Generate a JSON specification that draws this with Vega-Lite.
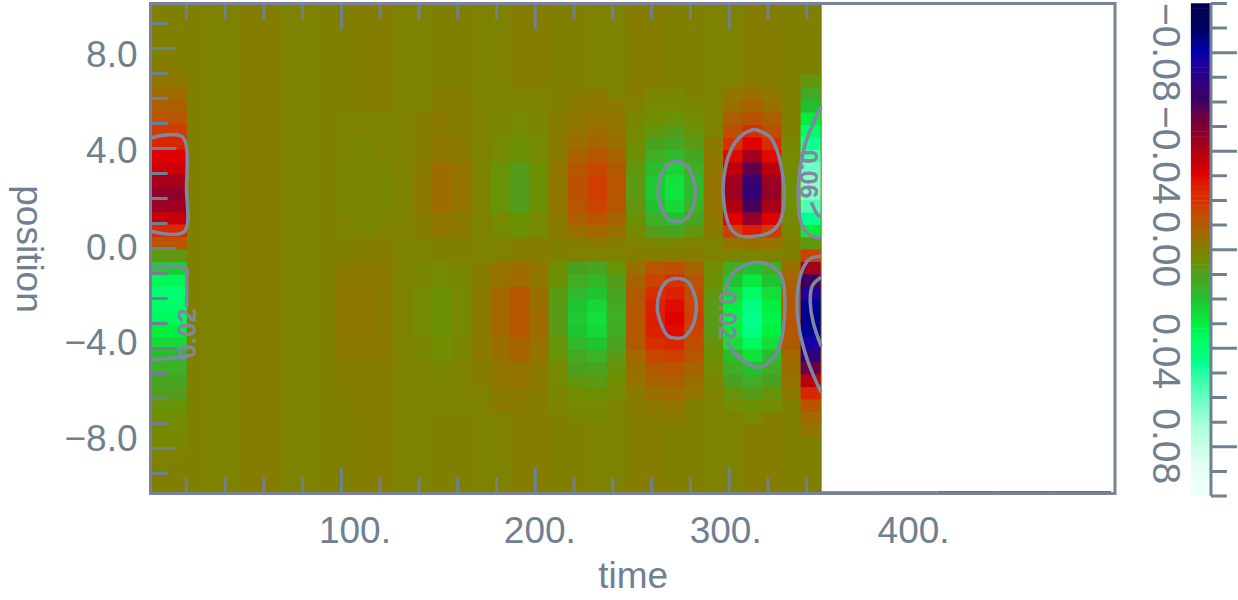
{"background":"white","padding":{"left":9.5,"top":1.5,"right":0,"bottom":0},"config":{"view":{"stroke":null},"axis":{"grid":false,"zindex":1,"labelFont":"Liberation Sans","titleFont":"Liberation Sans","labelFontSize":37,"titleFontSize":37,"labelColor":"#708090","titleColor":"#708090","titleFontWeight":"normal","tickColor":"#708090","domainColor":"#708090","tickWidth":3,"domainWidth":3,"labelOverlap":false,"labelBound":false,"labelFlush":false}},"width":964.5,"height":490,"layer":[{"mark":{"type":"rect","width":40,"height":490},"data":{"values":[{"t":17.4,"y":0,"v":0},{"t":37.4,"y":0,"v":0.001},{"t":57.4,"y":0,"v":-0.001},{"t":77.4,"y":0,"v":0.001},{"t":97.4,"y":0,"v":0},{"t":117.4,"y":0,"v":-0.001},{"t":137.4,"y":0,"v":0.001},{"t":157.4,"y":0,"v":0},{"t":177.4,"y":0,"v":0.001},{"t":197.4,"y":0,"v":-0.001},{"t":217.4,"y":0,"v":0},{"t":237.4,"y":0,"v":0.001},{"t":257.4,"y":0,"v":-0.001},{"t":277.4,"y":0,"v":0},{"t":297.4,"y":0,"v":0.001},{"t":317.4,"y":0,"v":-0.001},{"t":337.4,"y":0,"v":0}]},"encoding":{"x":{"field":"t","type":"quantitative","title":"time","scale":{"domain":[1.5,499],"nice":false,"zero":false},"axis":{"orient":"bottom","values":[20,40,60,80,100,120,140,160,180,200,220,240,260,280,300,320,340,400],"domain":false,"tickSize":{"condition":[{"test":"datum.value>347","value":0},{"test":"datum.value%100==0","value":-26}],"value":-16},"labelExpr":"datum.value%100==0?format(datum.value,'d')+'.':''","labelOffset":{"condition":[{"test":"datum.value==100","value":13},{"test":"datum.value==200","value":4},{"test":"datum.value==300","value":-4},{"test":"datum.value==400","value":-10}],"value":0},"labelPadding":{"condition":{"test":"datum.value>347","value":20},"value":46},"titlePadding":-1}},"y":{"field":"y","type":"quantitative","title":"position","scale":{"domain":[-9.8,9.8],"nice":false,"zero":false},"axis":{"values":[-9,-8,-7,-6,-5,-4,-3,-2,-1,0,1,2,3,4,5,6,7,8,9],"domain":false,"tickSize":{"condition":{"test":"datum.value%4==0","value":-26},"value":-17},"labelExpr":"datum.value%4==0?format(datum.value,'.1f'):''","labelOffset":{"condition":[{"test":"datum.value==8","value":7},{"test":"datum.value==4","value":4},{"test":"datum.value==-4","value":-4},{"test":"datum.value==-8","value":-8}],"value":0},"labelPadding":39,"titleAngle":90,"titlePadding":120}},"color":{"field":"v","type":"quantitative","legend":null,"scale":{"domain":[-0.1,-0.09,-0.08,-0.07,-0.06,-0.05,-0.04,-0.03,-0.02,-0.01,0,0.01,0.02,0.03,0.04,0.05,0.06,0.07,0.08,0.09,0.1],"range":["#000000","#000060","#0000b0","#280088","#3c0060","#780030","#b00010","#e00000","#d83000","#b05a00","#808000","#4aa020","#20c030","#00f040","#00ff70","#20ffa0","#60ffc0","#a0ffd8","#c8ffe8","#e8fff4","#ffffff"]}}}},{"mark":{"type":"rect","width":36.5,"height":13},"encoding":{"x":{"field":"t","type":"quantitative"},"y":{"field":"y","type":"quantitative"},"color":{"field":"v","type":"quantitative","legend":null}},"data":{"values":[{"t":10.8,"y":9.55,"v":0},{"t":10.8,"y":9.2,"v":0},{"t":10.8,"y":8.7,"v":0},{"t":10.8,"y":8.2,"v":0},{"t":10.8,"y":7.7,"v":0},{"t":10.8,"y":7.2,"v":-0.001},{"t":10.8,"y":6.7,"v":-0.003},{"t":10.8,"y":6.2,"v":-0.006},{"t":10.8,"y":5.7,"v":-0.009},{"t":10.8,"y":5.2,"v":-0.012},{"t":10.8,"y":4.7,"v":-0.018},{"t":10.8,"y":4.2,"v":-0.024},{"t":10.8,"y":3.7,"v":-0.03},{"t":10.8,"y":3.2,"v":-0.034},{"t":10.8,"y":2.7,"v":-0.042},{"t":10.8,"y":2.2,"v":-0.046},{"t":10.8,"y":1.7,"v":-0.044},{"t":10.8,"y":1.2,"v":-0.036},{"t":10.8,"y":0.7,"v":-0.022},{"t":10.8,"y":0.2,"v":-0.012},{"t":10.8,"y":-0.3,"v":0.007},{"t":10.8,"y":-0.8,"v":0.022},{"t":10.8,"y":-1.3,"v":0.035},{"t":10.8,"y":-1.8,"v":0.04},{"t":10.8,"y":-2.3,"v":0.038},{"t":10.8,"y":-2.8,"v":0.036},{"t":10.8,"y":-3.3,"v":0.03},{"t":10.8,"y":-3.8,"v":0.025},{"t":10.8,"y":-4.3,"v":0.019},{"t":10.8,"y":-4.8,"v":0.015},{"t":10.8,"y":-5.3,"v":0.012},{"t":10.8,"y":-5.8,"v":0.009},{"t":10.8,"y":-6.3,"v":0.006},{"t":10.8,"y":-6.8,"v":0.004},{"t":10.8,"y":-7.3,"v":0.003},{"t":10.8,"y":-7.8,"v":0.002},{"t":10.8,"y":-8.3,"v":0.001},{"t":10.8,"y":-8.8,"v":0},{"t":10.8,"y":-9.3,"v":0},{"t":10.8,"y":-9.55,"v":0}]}},{"mark":{"type":"rect","width":20,"height":25.6},"encoding":{"x":{"field":"t","type":"quantitative"},"y":{"field":"y","type":"quantitative"},"color":{"field":"v","type":"quantitative","legend":null}},"data":{"values":[{"t":102,"y":0.95,"v":0.001},{"t":102,"y":1.95,"v":0.002},{"t":102,"y":2.95,"v":0.002},{"t":102,"y":3.95,"v":0.001},{"t":102,"y":4.95,"v":0.001},{"t":102,"y":-1.05,"v":-0.002},{"t":102,"y":-2.05,"v":-0.003},{"t":102,"y":-3.05,"v":-0.003},{"t":102,"y":-4.05,"v":-0.002},{"t":102,"y":-5.05,"v":-0.001},{"t":112,"y":0.95,"v":0.002},{"t":112,"y":1.95,"v":0.002},{"t":112,"y":2.95,"v":0.002},{"t":112,"y":3.95,"v":0.002},{"t":112,"y":4.95,"v":0.001},{"t":112,"y":-1.05,"v":-0.002},{"t":112,"y":-2.05,"v":-0.003},{"t":112,"y":-3.05,"v":-0.003},{"t":112,"y":-4.05,"v":-0.002},{"t":112,"y":-5.05,"v":-0.001},{"t":112,"y":-6.05,"v":-0.001},{"t":122,"y":0.95,"v":0.001},{"t":122,"y":1.95,"v":0.002},{"t":122,"y":2.95,"v":0.002},{"t":122,"y":3.95,"v":0.001},{"t":122,"y":4.95,"v":0.001},{"t":122,"y":-1.05,"v":-0.002},{"t":122,"y":-2.05,"v":-0.002},{"t":122,"y":-3.05,"v":-0.002},{"t":122,"y":-4.05,"v":-0.002},{"t":122,"y":-5.05,"v":-0.001},{"t":132,"y":0.95,"v":0.001},{"t":132,"y":1.95,"v":0.001},{"t":132,"y":2.95,"v":0.001},{"t":132,"y":3.95,"v":0.001},{"t":132,"y":-1.05,"v":0.001},{"t":132,"y":-2.05,"v":0.001},{"t":132,"y":-3.05,"v":0.001},{"t":132,"y":-4.05,"v":0.001},{"t":142,"y":0.95,"v":-0.001},{"t":142,"y":1.95,"v":-0.002},{"t":142,"y":2.95,"v":-0.002},{"t":142,"y":3.95,"v":-0.001},{"t":142,"y":4.95,"v":-0.001},{"t":142,"y":-1.05,"v":0.002},{"t":142,"y":-2.05,"v":0.003},{"t":142,"y":-3.05,"v":0.003},{"t":142,"y":-4.05,"v":0.002},{"t":142,"y":-5.05,"v":0.001},{"t":142,"y":-6.05,"v":0.001},{"t":152,"y":0.95,"v":-0.003},{"t":152,"y":1.95,"v":-0.006},{"t":152,"y":2.95,"v":-0.006},{"t":152,"y":3.95,"v":-0.003},{"t":152,"y":4.95,"v":-0.002},{"t":152,"y":5.95,"v":-0.001},{"t":152,"y":-1.05,"v":0.003},{"t":152,"y":-2.05,"v":0.005},{"t":152,"y":-3.05,"v":0.005},{"t":152,"y":-4.05,"v":0.004},{"t":152,"y":-5.05,"v":0.002},{"t":152,"y":-6.05,"v":0.001},{"t":162,"y":0.95,"v":-0.002},{"t":162,"y":1.95,"v":-0.004},{"t":162,"y":2.95,"v":-0.004},{"t":162,"y":3.95,"v":-0.002},{"t":162,"y":4.95,"v":-0.001},{"t":162,"y":5.95,"v":-0.001},{"t":162,"y":-1.05,"v":0.002},{"t":162,"y":-2.05,"v":0.003},{"t":162,"y":-3.05,"v":0.003},{"t":162,"y":-4.05,"v":0.002},{"t":162,"y":-5.05,"v":0.001},{"t":162,"y":-6.05,"v":0.001},{"t":172,"y":0.95,"v":0.001},{"t":172,"y":1.95,"v":0.001},{"t":172,"y":2.95,"v":0.001},{"t":172,"y":3.95,"v":0.001},{"t":172,"y":-1.05,"v":-0.001},{"t":172,"y":-2.05,"v":-0.002},{"t":172,"y":-3.05,"v":-0.002},{"t":172,"y":-4.05,"v":-0.002},{"t":172,"y":-5.05,"v":-0.001},{"t":182,"y":0.95,"v":0.003},{"t":182,"y":1.95,"v":0.006},{"t":182,"y":2.95,"v":0.006},{"t":182,"y":3.95,"v":0.003},{"t":182,"y":4.95,"v":0.002},{"t":182,"y":5.95,"v":0.001},{"t":182,"y":-1.05,"v":-0.004},{"t":182,"y":-2.05,"v":-0.007},{"t":182,"y":-3.05,"v":-0.007},{"t":182,"y":-4.05,"v":-0.005},{"t":182,"y":-5.05,"v":-0.003},{"t":182,"y":-6.05,"v":-0.002},{"t":192,"y":0.95,"v":0.005},{"t":192,"y":1.95,"v":0.009},{"t":192,"y":2.95,"v":0.009},{"t":192,"y":3.95,"v":0.005},{"t":192,"y":4.95,"v":0.003},{"t":192,"y":5.95,"v":0.001},{"t":192,"y":-1.05,"v":-0.006},{"t":192,"y":-2.05,"v":-0.011},{"t":192,"y":-3.05,"v":-0.011},{"t":192,"y":-4.05,"v":-0.008},{"t":192,"y":-5.05,"v":-0.004},{"t":192,"y":-6.05,"v":-0.002},{"t":202,"y":0.95,"v":0.003},{"t":202,"y":1.95,"v":0.005},{"t":202,"y":2.95,"v":0.005},{"t":202,"y":3.95,"v":0.003},{"t":202,"y":4.95,"v":0.002},{"t":202,"y":5.95,"v":0.001},{"t":202,"y":-1.05,"v":-0.003},{"t":202,"y":-2.05,"v":-0.005},{"t":202,"y":-3.05,"v":-0.006},{"t":202,"y":-4.05,"v":-0.004},{"t":202,"y":-5.05,"v":-0.002},{"t":202,"y":-6.05,"v":-0.001},{"t":212,"y":0.95,"v":-0.002},{"t":212,"y":1.95,"v":-0.003},{"t":212,"y":2.95,"v":-0.003},{"t":212,"y":3.95,"v":-0.002},{"t":212,"y":4.95,"v":-0.001},{"t":212,"y":-1.05,"v":0.005},{"t":212,"y":-2.05,"v":0.008},{"t":212,"y":-3.05,"v":0.008},{"t":212,"y":-4.05,"v":0.006},{"t":212,"y":-5.05,"v":0.003},{"t":212,"y":-6.05,"v":0.002}]}},{"mark":{"type":"rect","width":20,"height":13},"encoding":{"x":{"field":"t","type":"quantitative"},"y":{"field":"y","type":"quantitative"},"color":{"field":"v","type":"quantitative","legend":null}},"data":{"values":[{"t":222,"y":0.2,"v":-0.001},{"t":222,"y":0.7,"v":-0.005},{"t":222,"y":1.2,"v":-0.009},{"t":222,"y":1.7,"v":-0.012},{"t":222,"y":2.2,"v":-0.013},{"t":222,"y":2.7,"v":-0.013},{"t":222,"y":3.2,"v":-0.011},{"t":222,"y":3.7,"v":-0.008},{"t":222,"y":4.2,"v":-0.006},{"t":222,"y":4.7,"v":-0.004},{"t":222,"y":5.2,"v":-0.003},{"t":222,"y":5.7,"v":-0.002},{"t":222,"y":6.2,"v":-0.001},{"t":222,"y":-0.3,"v":0.001},{"t":222,"y":-0.8,"v":0.01},{"t":222,"y":-1.3,"v":0.014},{"t":222,"y":-1.8,"v":0.018},{"t":222,"y":-2.3,"v":0.021},{"t":222,"y":-2.8,"v":0.022},{"t":222,"y":-3.3,"v":0.021},{"t":222,"y":-3.8,"v":0.018},{"t":222,"y":-4.3,"v":0.013},{"t":222,"y":-4.8,"v":0.01},{"t":222,"y":-5.3,"v":0.007},{"t":222,"y":-5.8,"v":0.004},{"t":222,"y":-6.3,"v":0.003},{"t":222,"y":-6.8,"v":0.002},{"t":232,"y":0.2,"v":-0.002},{"t":232,"y":0.7,"v":-0.007},{"t":232,"y":1.2,"v":-0.012},{"t":232,"y":1.7,"v":-0.017},{"t":232,"y":2.2,"v":-0.018},{"t":232,"y":2.7,"v":-0.018},{"t":232,"y":3.2,"v":-0.016},{"t":232,"y":3.7,"v":-0.012},{"t":232,"y":4.2,"v":-0.008},{"t":232,"y":4.7,"v":-0.006},{"t":232,"y":5.2,"v":-0.004},{"t":232,"y":5.7,"v":-0.003},{"t":232,"y":6.2,"v":-0.002},{"t":232,"y":-0.3,"v":0.001},{"t":232,"y":-0.8,"v":0.012},{"t":232,"y":-1.3,"v":0.017},{"t":232,"y":-1.8,"v":0.021},{"t":232,"y":-2.3,"v":0.025},{"t":232,"y":-2.8,"v":0.026},{"t":232,"y":-3.3,"v":0.025},{"t":232,"y":-3.8,"v":0.021},{"t":232,"y":-4.3,"v":0.016},{"t":232,"y":-4.8,"v":0.011},{"t":232,"y":-5.3,"v":0.008},{"t":232,"y":-5.8,"v":0.005},{"t":232,"y":-6.3,"v":0.003},{"t":232,"y":-6.8,"v":0.002},{"t":242,"y":0.2,"v":-0.001},{"t":242,"y":0.7,"v":-0.005},{"t":242,"y":1.2,"v":-0.008},{"t":242,"y":1.7,"v":-0.011},{"t":242,"y":2.2,"v":-0.012},{"t":242,"y":2.7,"v":-0.012},{"t":242,"y":3.2,"v":-0.01},{"t":242,"y":3.7,"v":-0.008},{"t":242,"y":4.2,"v":-0.005},{"t":242,"y":4.7,"v":-0.004},{"t":242,"y":5.2,"v":-0.003},{"t":242,"y":5.7,"v":-0.002},{"t":242,"y":-0.3,"v":0.001},{"t":242,"y":-0.8,"v":0.006},{"t":242,"y":-1.3,"v":0.009},{"t":242,"y":-1.8,"v":0.011},{"t":242,"y":-2.3,"v":0.013},{"t":242,"y":-2.8,"v":0.014},{"t":242,"y":-3.3,"v":0.013},{"t":242,"y":-3.8,"v":0.011},{"t":242,"y":-4.3,"v":0.008},{"t":242,"y":-4.8,"v":0.006},{"t":242,"y":-5.3,"v":0.004},{"t":242,"y":-5.8,"v":0.003},{"t":252,"y":0.2,"v":0.001},{"t":252,"y":0.7,"v":0.003},{"t":252,"y":1.2,"v":0.005},{"t":252,"y":1.7,"v":0.007},{"t":252,"y":2.2,"v":0.008},{"t":252,"y":2.7,"v":0.008},{"t":252,"y":3.2,"v":0.007},{"t":252,"y":3.7,"v":0.005},{"t":252,"y":4.2,"v":0.004},{"t":252,"y":4.7,"v":0.003},{"t":252,"y":5.2,"v":0.002},{"t":252,"y":5.7,"v":0.001},{"t":252,"y":-0.8,"v":-0.005},{"t":252,"y":-1.3,"v":-0.008},{"t":252,"y":-1.8,"v":-0.01},{"t":252,"y":-2.3,"v":-0.011},{"t":252,"y":-2.8,"v":-0.012},{"t":252,"y":-3.3,"v":-0.011},{"t":252,"y":-3.8,"v":-0.01},{"t":252,"y":-4.3,"v":-0.007},{"t":252,"y":-4.8,"v":-0.005},{"t":252,"y":-5.3,"v":-0.004},{"t":252,"y":-5.8,"v":-0.002},{"t":262,"y":0.2,"v":0.002},{"t":262,"y":0.7,"v":0.009},{"t":262,"y":1.2,"v":0.015},{"t":262,"y":1.7,"v":0.02},{"t":262,"y":2.2,"v":0.022},{"t":262,"y":2.7,"v":0.022},{"t":262,"y":3.2,"v":0.019},{"t":262,"y":3.7,"v":0.014},{"t":262,"y":4.2,"v":0.01},{"t":262,"y":4.7,"v":0.007},{"t":262,"y":5.2,"v":0.004},{"t":262,"y":5.7,"v":0.003},{"t":262,"y":6.2,"v":0.002},{"t":262,"y":-0.3,"v":-0.001},{"t":262,"y":-0.8,"v":-0.012},{"t":262,"y":-1.3,"v":-0.017},{"t":262,"y":-1.8,"v":-0.021},{"t":262,"y":-2.3,"v":-0.025},{"t":262,"y":-2.8,"v":-0.026},{"t":262,"y":-3.3,"v":-0.025},{"t":262,"y":-3.8,"v":-0.021},{"t":262,"y":-4.3,"v":-0.016},{"t":262,"y":-4.8,"v":-0.011},{"t":262,"y":-5.3,"v":-0.008},{"t":262,"y":-5.8,"v":-0.005},{"t":262,"y":-6.3,"v":-0.003},{"t":272,"y":0.2,"v":0.002},{"t":272,"y":0.7,"v":0.011},{"t":272,"y":1.2,"v":0.019},{"t":272,"y":1.7,"v":0.025},{"t":272,"y":2.2,"v":0.028},{"t":272,"y":2.7,"v":0.027},{"t":272,"y":3.2,"v":0.024},{"t":272,"y":3.7,"v":0.018},{"t":272,"y":4.2,"v":0.013},{"t":272,"y":4.7,"v":0.009},{"t":272,"y":5.2,"v":0.006},{"t":272,"y":5.7,"v":0.003},{"t":272,"y":6.2,"v":0.002},{"t":272,"y":-0.3,"v":-0.001},{"t":272,"y":-0.8,"v":-0.014},{"t":272,"y":-1.3,"v":-0.02},{"t":272,"y":-1.8,"v":-0.025},{"t":272,"y":-2.3,"v":-0.029},{"t":272,"y":-2.8,"v":-0.03},{"t":272,"y":-3.3,"v":-0.029},{"t":272,"y":-3.8,"v":-0.024},{"t":272,"y":-4.3,"v":-0.018},{"t":272,"y":-4.8,"v":-0.013},{"t":272,"y":-5.3,"v":-0.009},{"t":272,"y":-5.8,"v":-0.006},{"t":272,"y":-6.3,"v":-0.004},{"t":272,"y":-6.8,"v":-0.002},{"t":282,"y":0.2,"v":0.001},{"t":282,"y":0.7,"v":0.007},{"t":282,"y":1.2,"v":0.012},{"t":282,"y":1.7,"v":0.016},{"t":282,"y":2.2,"v":0.018},{"t":282,"y":2.7,"v":0.018},{"t":282,"y":3.2,"v":0.015},{"t":282,"y":3.7,"v":0.012},{"t":282,"y":4.2,"v":0.008},{"t":282,"y":4.7,"v":0.006},{"t":282,"y":5.2,"v":0.004},{"t":282,"y":5.7,"v":0.002},{"t":282,"y":-0.3,"v":-0.001},{"t":282,"y":-0.8,"v":-0.008},{"t":282,"y":-1.3,"v":-0.012},{"t":282,"y":-1.8,"v":-0.015},{"t":282,"y":-2.3,"v":-0.017},{"t":282,"y":-2.8,"v":-0.018},{"t":282,"y":-3.3,"v":-0.017},{"t":282,"y":-3.8,"v":-0.014},{"t":282,"y":-4.3,"v":-0.011},{"t":282,"y":-4.8,"v":-0.008},{"t":282,"y":-5.3,"v":-0.005},{"t":282,"y":-5.8,"v":-0.004},{"t":292,"y":0.7,"v":-0.002},{"t":292,"y":1.2,"v":-0.003},{"t":292,"y":1.7,"v":-0.004},{"t":292,"y":2.2,"v":-0.004},{"t":292,"y":2.7,"v":-0.004},{"t":292,"y":3.2,"v":-0.003},{"t":292,"y":3.7,"v":-0.003},{"t":292,"y":4.2,"v":-0.002},{"t":292,"y":-0.8,"v":0.004},{"t":292,"y":-1.3,"v":0.005},{"t":292,"y":-1.8,"v":0.007},{"t":292,"y":-2.3,"v":0.008},{"t":292,"y":-2.8,"v":0.008},{"t":292,"y":-3.3,"v":0.008},{"t":292,"y":-3.8,"v":0.006},{"t":292,"y":-4.3,"v":0.005},{"t":292,"y":-4.8,"v":0.004},{"t":292,"y":-5.3,"v":0.002},{"t":302,"y":0.2,"v":-0.004},{"t":302,"y":0.7,"v":-0.018},{"t":302,"y":1.2,"v":-0.03},{"t":302,"y":1.7,"v":-0.04},{"t":302,"y":2.2,"v":-0.044},{"t":302,"y":2.7,"v":-0.043},{"t":302,"y":3.2,"v":-0.037},{"t":302,"y":3.7,"v":-0.029},{"t":302,"y":4.2,"v":-0.02},{"t":302,"y":4.7,"v":-0.014},{"t":302,"y":5.2,"v":-0.009},{"t":302,"y":5.7,"v":-0.005},{"t":302,"y":6.2,"v":-0.003},{"t":302,"y":-0.3,"v":0.001},{"t":302,"y":-0.8,"v":0.014},{"t":302,"y":-1.3,"v":0.021},{"t":302,"y":-1.8,"v":0.026},{"t":302,"y":-2.3,"v":0.03},{"t":302,"y":-2.8,"v":0.032},{"t":302,"y":-3.3,"v":0.03},{"t":302,"y":-3.8,"v":0.026},{"t":302,"y":-4.3,"v":0.019},{"t":302,"y":-4.8,"v":0.014},{"t":302,"y":-5.3,"v":0.01},{"t":302,"y":-5.8,"v":0.006},{"t":302,"y":-6.3,"v":0.004},{"t":312,"y":0.2,"v":-0.005},{"t":312,"y":0.7,"v":-0.026},{"t":312,"y":1.2,"v":-0.045},{"t":312,"y":1.7,"v":-0.059},{"t":312,"y":2.2,"v":-0.066},{"t":312,"y":2.7,"v":-0.065},{"t":312,"y":3.2,"v":-0.056},{"t":312,"y":3.7,"v":-0.043},{"t":312,"y":4.2,"v":-0.03},{"t":312,"y":4.7,"v":-0.021},{"t":312,"y":5.2,"v":-0.013},{"t":312,"y":5.7,"v":-0.008},{"t":312,"y":6.2,"v":-0.005},{"t":312,"y":6.7,"v":-0.002},{"t":312,"y":-0.3,"v":0.002},{"t":312,"y":-0.8,"v":0.02},{"t":312,"y":-1.3,"v":0.029},{"t":312,"y":-1.8,"v":0.037},{"t":312,"y":-2.3,"v":0.043},{"t":312,"y":-2.8,"v":0.045},{"t":312,"y":-3.3,"v":0.043},{"t":312,"y":-3.8,"v":0.036},{"t":312,"y":-4.3,"v":0.027},{"t":312,"y":-4.8,"v":0.02},{"t":312,"y":-5.3,"v":0.014},{"t":312,"y":-5.8,"v":0.009},{"t":312,"y":-6.3,"v":0.005},{"t":312,"y":-6.8,"v":0.003},{"t":322,"y":0.2,"v":-0.004},{"t":322,"y":0.7,"v":-0.018},{"t":322,"y":1.2,"v":-0.031},{"t":322,"y":1.7,"v":-0.041},{"t":322,"y":2.2,"v":-0.045},{"t":322,"y":2.7,"v":-0.044},{"t":322,"y":3.2,"v":-0.038},{"t":322,"y":3.7,"v":-0.029},{"t":322,"y":4.2,"v":-0.021},{"t":322,"y":4.7,"v":-0.014},{"t":322,"y":5.2,"v":-0.009},{"t":322,"y":5.7,"v":-0.005},{"t":322,"y":6.2,"v":-0.003},{"t":322,"y":-0.3,"v":0.001},{"t":322,"y":-0.8,"v":0.014},{"t":322,"y":-1.3,"v":0.021},{"t":322,"y":-1.8,"v":0.026},{"t":322,"y":-2.3,"v":0.03},{"t":322,"y":-2.8,"v":0.032},{"t":322,"y":-3.3,"v":0.03},{"t":322,"y":-3.8,"v":0.026},{"t":322,"y":-4.3,"v":0.019},{"t":322,"y":-4.8,"v":0.014},{"t":322,"y":-5.3,"v":0.01},{"t":322,"y":-5.8,"v":0.006},{"t":322,"y":-6.3,"v":0.004},{"t":332,"y":0.7,"v":0.002},{"t":332,"y":1.2,"v":0.003},{"t":332,"y":1.7,"v":0.004},{"t":332,"y":2.2,"v":0.004},{"t":332,"y":2.7,"v":0.004},{"t":332,"y":3.2,"v":0.003},{"t":332,"y":3.7,"v":0.003},{"t":332,"y":4.2,"v":0.002},{"t":332,"y":-0.8,"v":-0.005},{"t":332,"y":-1.3,"v":-0.008},{"t":332,"y":-1.8,"v":-0.01},{"t":332,"y":-2.3,"v":-0.011},{"t":332,"y":-2.8,"v":-0.012},{"t":332,"y":-3.3,"v":-0.011},{"t":332,"y":-3.8,"v":-0.01},{"t":332,"y":-4.3,"v":-0.007},{"t":332,"y":-4.8,"v":-0.005},{"t":332,"y":-5.3,"v":-0.004},{"t":332,"y":-5.8,"v":-0.002},{"t":342,"y":0.2,"v":0.007},{"t":342,"y":0.7,"v":0.029},{"t":342,"y":1.2,"v":0.046},{"t":342,"y":1.7,"v":0.057},{"t":342,"y":2.2,"v":0.065},{"t":342,"y":2.7,"v":0.065},{"t":342,"y":3.2,"v":0.062},{"t":342,"y":3.7,"v":0.055},{"t":342,"y":4.2,"v":0.047},{"t":342,"y":4.7,"v":0.039},{"t":342,"y":5.2,"v":0.029},{"t":342,"y":5.7,"v":0.02},{"t":342,"y":6.2,"v":0.013},{"t":342,"y":6.7,"v":0.007},{"t":342,"y":-0.3,"v":-0.017},{"t":342,"y":-0.8,"v":-0.043},{"t":342,"y":-1.3,"v":-0.06},{"t":342,"y":-1.8,"v":-0.075},{"t":342,"y":-2.3,"v":-0.083},{"t":342,"y":-2.8,"v":-0.085},{"t":342,"y":-3.3,"v":-0.083},{"t":342,"y":-3.8,"v":-0.077},{"t":342,"y":-4.3,"v":-0.068},{"t":342,"y":-4.8,"v":-0.055},{"t":342,"y":-5.3,"v":-0.038},{"t":342,"y":-5.8,"v":-0.024},{"t":342,"y":-6.3,"v":-0.013},{"t":342,"y":-6.8,"v":-0.007},{"t":342,"y":-7.3,"v":-0.003}]}},{"mark":{"type":"rect","width":58,"height":2},"encoding":{"x":{"field":"t","type":"quantitative"},"y":{"field":"y","type":"quantitative"},"color":{"field":"v","type":"quantitative","legend":null}},"data":{"values":[{"t":362,"y":-9.75,"v":-0.005},{"t":392,"y":-9.75,"v":-0.025},{"t":422,"y":-9.75,"v":-0.03},{"t":452,"y":-9.75,"v":-0.03},{"t":482,"y":-9.75,"v":-0.03}]}},{"mark":{"type":"rect","width":20,"height":5.5},"encoding":{"x":{"field":"t","type":"quantitative"},"y":{"field":"y","type":"quantitative"},"color":{"field":"v","type":"quantitative","legend":null}},"data":{"values":[{"t":543.3,"y":9.7,"v":-0.099},{"t":543.3,"y":9.5,"v":-0.097},{"t":543.3,"y":9.31,"v":-0.095},{"t":543.3,"y":9.11,"v":-0.093},{"t":543.3,"y":8.91,"v":-0.091},{"t":543.3,"y":8.72,"v":-0.089},{"t":543.3,"y":8.52,"v":-0.087},{"t":543.3,"y":8.32,"v":-0.085},{"t":543.3,"y":8.13,"v":-0.083},{"t":543.3,"y":7.93,"v":-0.081},{"t":543.3,"y":7.73,"v":-0.079},{"t":543.3,"y":7.53,"v":-0.077},{"t":543.3,"y":7.34,"v":-0.075},{"t":543.3,"y":7.14,"v":-0.073},{"t":543.3,"y":6.94,"v":-0.071},{"t":543.3,"y":6.75,"v":-0.069},{"t":543.3,"y":6.55,"v":-0.067},{"t":543.3,"y":6.35,"v":-0.065},{"t":543.3,"y":6.16,"v":-0.063},{"t":543.3,"y":5.96,"v":-0.061},{"t":543.3,"y":5.76,"v":-0.059},{"t":543.3,"y":5.56,"v":-0.057},{"t":543.3,"y":5.37,"v":-0.055},{"t":543.3,"y":5.17,"v":-0.053},{"t":543.3,"y":4.97,"v":-0.051},{"t":543.3,"y":4.78,"v":-0.049},{"t":543.3,"y":4.58,"v":-0.047},{"t":543.3,"y":4.38,"v":-0.045},{"t":543.3,"y":4.19,"v":-0.043},{"t":543.3,"y":3.99,"v":-0.041},{"t":543.3,"y":3.79,"v":-0.039},{"t":543.3,"y":3.59,"v":-0.037},{"t":543.3,"y":3.4,"v":-0.035},{"t":543.3,"y":3.2,"v":-0.033},{"t":543.3,"y":3,"v":-0.031},{"t":543.3,"y":2.81,"v":-0.029},{"t":543.3,"y":2.61,"v":-0.027},{"t":543.3,"y":2.41,"v":-0.025},{"t":543.3,"y":2.22,"v":-0.023},{"t":543.3,"y":2.02,"v":-0.021},{"t":543.3,"y":1.82,"v":-0.019},{"t":543.3,"y":1.62,"v":-0.017},{"t":543.3,"y":1.43,"v":-0.015},{"t":543.3,"y":1.23,"v":-0.013},{"t":543.3,"y":1.03,"v":-0.011},{"t":543.3,"y":0.84,"v":-0.009},{"t":543.3,"y":0.64,"v":-0.007},{"t":543.3,"y":0.44,"v":-0.005},{"t":543.3,"y":0.25,"v":-0.003},{"t":543.3,"y":0.05,"v":-0.001},{"t":543.3,"y":-0.15,"v":0.001},{"t":543.3,"y":-0.35,"v":0.003},{"t":543.3,"y":-0.54,"v":0.005},{"t":543.3,"y":-0.74,"v":0.007},{"t":543.3,"y":-0.94,"v":0.009},{"t":543.3,"y":-1.13,"v":0.011},{"t":543.3,"y":-1.33,"v":0.013},{"t":543.3,"y":-1.53,"v":0.015},{"t":543.3,"y":-1.72,"v":0.017},{"t":543.3,"y":-1.92,"v":0.019},{"t":543.3,"y":-2.12,"v":0.021},{"t":543.3,"y":-2.32,"v":0.023},{"t":543.3,"y":-2.51,"v":0.025},{"t":543.3,"y":-2.71,"v":0.027},{"t":543.3,"y":-2.91,"v":0.029},{"t":543.3,"y":-3.1,"v":0.031},{"t":543.3,"y":-3.3,"v":0.033},{"t":543.3,"y":-3.5,"v":0.035},{"t":543.3,"y":-3.69,"v":0.037},{"t":543.3,"y":-3.89,"v":0.039},{"t":543.3,"y":-4.09,"v":0.041},{"t":543.3,"y":-4.29,"v":0.043},{"t":543.3,"y":-4.48,"v":0.045},{"t":543.3,"y":-4.68,"v":0.047},{"t":543.3,"y":-4.88,"v":0.049},{"t":543.3,"y":-5.07,"v":0.051},{"t":543.3,"y":-5.27,"v":0.053},{"t":543.3,"y":-5.47,"v":0.055},{"t":543.3,"y":-5.66,"v":0.057},{"t":543.3,"y":-5.86,"v":0.059},{"t":543.3,"y":-6.06,"v":0.061},{"t":543.3,"y":-6.26,"v":0.063},{"t":543.3,"y":-6.45,"v":0.065},{"t":543.3,"y":-6.65,"v":0.067},{"t":543.3,"y":-6.85,"v":0.069},{"t":543.3,"y":-7.04,"v":0.071},{"t":543.3,"y":-7.24,"v":0.073},{"t":543.3,"y":-7.44,"v":0.075},{"t":543.3,"y":-7.63,"v":0.077},{"t":543.3,"y":-7.83,"v":0.079},{"t":543.3,"y":-8.03,"v":0.081},{"t":543.3,"y":-8.23,"v":0.083},{"t":543.3,"y":-8.42,"v":0.085},{"t":543.3,"y":-8.62,"v":0.087},{"t":543.3,"y":-8.82,"v":0.089},{"t":543.3,"y":-9.01,"v":0.091},{"t":543.3,"y":-9.21,"v":0.093},{"t":543.3,"y":-9.41,"v":0.095},{"t":543.3,"y":-9.6,"v":0.097},{"t":543.3,"y":-9.8,"v":0.099}]}},{"mark":{"type":"rule","color":"#708090","strokeWidth":3},"data":{"values":[{"t":20,"y":9.8,"e":9.16},{"t":40,"y":9.8,"e":9.16},{"t":60,"y":9.8,"e":9.16},{"t":80,"y":9.8,"e":9.16},{"t":100,"y":9.8,"e":8.76},{"t":120,"y":9.8,"e":9.16},{"t":140,"y":9.8,"e":9.16},{"t":160,"y":9.8,"e":9.16},{"t":180,"y":9.8,"e":9.16},{"t":200,"y":9.8,"e":8.76},{"t":220,"y":9.8,"e":9.16},{"t":240,"y":9.8,"e":9.16},{"t":260,"y":9.8,"e":9.16},{"t":280,"y":9.8,"e":9.16},{"t":300,"y":9.8,"e":8.76},{"t":320,"y":9.8,"e":9.16},{"t":340,"y":9.8,"e":9.16},{"t":20,"y":-9.8,"e":-9.16},{"t":40,"y":-9.8,"e":-9.16},{"t":60,"y":-9.8,"e":-9.16},{"t":80,"y":-9.8,"e":-9.16},{"t":100,"y":-9.8,"e":-8.76},{"t":120,"y":-9.8,"e":-9.16},{"t":140,"y":-9.8,"e":-9.16},{"t":160,"y":-9.8,"e":-9.16},{"t":180,"y":-9.8,"e":-9.16},{"t":200,"y":-9.8,"e":-8.76},{"t":220,"y":-9.8,"e":-9.16},{"t":240,"y":-9.8,"e":-9.16},{"t":260,"y":-9.8,"e":-9.16},{"t":280,"y":-9.8,"e":-9.16},{"t":300,"y":-9.8,"e":-8.76},{"t":320,"y":-9.8,"e":-9.16},{"t":340,"y":-9.8,"e":-9.16},{"t":548.5,"y":9.81,"e":-9.89}]},"encoding":{"x":{"field":"t","type":"quantitative"},"y":{"field":"y","type":"quantitative"},"y2":{"field":"e"}}},{"mark":{"type":"rule","color":"#708090","strokeWidth":3},"data":{"values":[{"t":1.5,"u":10.3,"y":9},{"t":1.5,"u":14.9,"y":8},{"t":1.5,"u":10.3,"y":7},{"t":1.5,"u":10.3,"y":6},{"t":1.5,"u":10.3,"y":5},{"t":1.5,"u":14.9,"y":4},{"t":1.5,"u":10.3,"y":3},{"t":1.5,"u":10.3,"y":2},{"t":1.5,"u":10.3,"y":1},{"t":1.5,"u":14.9,"y":0},{"t":1.5,"u":10.3,"y":-1},{"t":1.5,"u":10.3,"y":-2},{"t":1.5,"u":10.3,"y":-3},{"t":1.5,"u":14.9,"y":-4},{"t":1.5,"u":10.3,"y":-5},{"t":1.5,"u":10.3,"y":-6},{"t":1.5,"u":10.3,"y":-7},{"t":1.5,"u":14.9,"y":-8},{"t":1.5,"u":10.3,"y":-9},{"t":548.5,"u":556.7,"y":9.8},{"t":548.5,"u":556.7,"y":8.82},{"t":548.5,"u":561.9,"y":7.83},{"t":548.5,"u":556.7,"y":6.85},{"t":548.5,"u":556.7,"y":5.86},{"t":548.5,"u":556.7,"y":4.88},{"t":548.5,"u":561.9,"y":3.89},{"t":548.5,"u":556.7,"y":2.91},{"t":548.5,"u":556.7,"y":1.92},{"t":548.5,"u":556.7,"y":0.94},{"t":548.5,"u":561.9,"y":-0.05},{"t":548.5,"u":556.7,"y":-1.04},{"t":548.5,"u":556.7,"y":-2.02},{"t":548.5,"u":556.7,"y":-3.01},{"t":548.5,"u":561.9,"y":-3.99},{"t":548.5,"u":556.7,"y":-4.98},{"t":548.5,"u":556.7,"y":-5.96},{"t":548.5,"u":556.7,"y":-6.95},{"t":548.5,"u":561.9,"y":-7.93},{"t":548.5,"u":556.7,"y":-8.92},{"t":548.5,"u":556.7,"y":-9.9}]},"encoding":{"x":{"field":"t","type":"quantitative"},"x2":{"field":"u"},"y":{"field":"y","type":"quantitative"}}},{"mark":{"type":"line","color":"#8088a0","strokeWidth":3.5,"interpolate":"cardinal"},"data":{"values":[{"c":1,"i":1,"t":1.5,"y":4.41},{"c":1,"i":2,"t":18.6,"y":4.41},{"c":1,"i":3,"t":20.1,"y":2.37},{"c":1,"i":4,"t":19.1,"y":0.69},{"c":1,"i":5,"t":1.5,"y":0.69},{"c":2,"i":6,"t":1.5,"y":-0.75},{"c":2,"i":7,"t":18.6,"y":-0.75},{"c":2,"i":8,"t":20.1,"y":-1.23},{"c":2,"i":9,"t":20.1,"y":-2.35},{"c":12,"i":10,"t":20.1,"y":-4.35},{"c":12,"i":11,"t":1.5,"y":-4.43},{"c":3,"i":12,"t":273.2,"y":3.49},{"c":3,"i":13,"t":278.4,"y":3.29},{"c":3,"i":14,"t":281.5,"y":2.77},{"c":3,"i":15,"t":282.5,"y":2.17},{"c":3,"i":16,"t":281,"y":1.57},{"c":3,"i":17,"t":277.3,"y":1.17},{"c":3,"i":18,"t":273.2,"y":1.09},{"c":3,"i":19,"t":268.6,"y":1.17},{"c":3,"i":20,"t":265,"y":1.65},{"c":3,"i":21,"t":263.4,"y":2.29},{"c":3,"i":22,"t":265,"y":2.97},{"c":3,"i":23,"t":268.6,"y":3.37},{"c":3,"i":24,"t":273.2,"y":3.49},{"c":4,"i":25,"t":273.2,"y":-1.19},{"c":4,"i":26,"t":278.9,"y":-1.35},{"c":4,"i":27,"t":282.5,"y":-1.95},{"c":4,"i":28,"t":283,"y":-2.43},{"c":4,"i":29,"t":281.5,"y":-3.03},{"c":4,"i":30,"t":277.3,"y":-3.51},{"c":4,"i":31,"t":273.2,"y":-3.59},{"c":4,"i":32,"t":268,"y":-3.47},{"c":4,"i":33,"t":264.4,"y":-2.91},{"c":4,"i":34,"t":262.9,"y":-2.35},{"c":4,"i":35,"t":264.4,"y":-1.71},{"c":4,"i":36,"t":268,"y":-1.31},{"c":4,"i":37,"t":273.2,"y":-1.19},{"c":5,"i":38,"t":313.4,"y":4.77},{"c":5,"i":39,"t":321.2,"y":4.45},{"c":5,"i":40,"t":325.3,"y":3.77},{"c":5,"i":41,"t":327.9,"y":2.77},{"c":5,"i":42,"t":328.4,"y":1.97},{"c":5,"i":43,"t":326.3,"y":1.09},{"c":5,"i":44,"t":321.2,"y":0.65},{"c":5,"i":45,"t":313.4,"y":0.49},{"c":5,"i":46,"t":304.7,"y":0.53},{"c":5,"i":47,"t":299.5,"y":1.01},{"c":5,"i":48,"t":296.9,"y":2.17},{"c":5,"i":49,"t":297.9,"y":3.17},{"c":5,"i":50,"t":301.6,"y":4.05},{"c":5,"i":51,"t":307.2,"y":4.57},{"c":5,"i":52,"t":313.4,"y":4.77},{"c":6,"i":53,"t":299,"y":-1.75},{"c":6,"i":54,"t":299,"y":-1.43},{"c":6,"i":55,"t":303.1,"y":-0.91},{"c":6,"i":56,"t":309.8,"y":-0.63},{"c":6,"i":57,"t":314.4,"y":-0.55},{"c":6,"i":58,"t":321.2,"y":-0.67},{"c":6,"i":59,"t":326.3,"y":-1.03},{"c":6,"i":60,"t":328.4,"y":-1.63},{"c":6,"i":61,"t":328.4,"y":-2.83},{"c":6,"i":62,"t":326.3,"y":-3.83},{"c":6,"i":63,"t":321.2,"y":-4.51},{"c":6,"i":64,"t":314.4,"y":-4.75},{"c":6,"i":65,"t":308.3,"y":-4.55},{"c":6,"i":66,"t":302.1,"y":-4.11},{"c":6,"i":67,"t":299,"y":-3.71},{"c":7,"i":68,"t":347.4,"y":5.69},{"c":7,"i":69,"t":344.3,"y":5.17},{"c":7,"i":70,"t":339.2,"y":4.17},{"c":7,"i":71,"t":336.1,"y":2.97},{"c":7,"i":72,"t":335.6,"y":1.97},{"c":7,"i":73,"t":336.6,"y":1.17},{"c":7,"i":74,"t":339.7,"y":0.65},{"c":7,"i":75,"t":344.3,"y":0.45},{"c":7,"i":76,"t":347.4,"y":0.45},{"c":8,"i":77,"t":342.3,"y":1.85},{"c":8,"i":78,"t":345.4,"y":1.37},{"c":8,"i":79,"t":347.4,"y":1.29},{"c":9,"i":80,"t":347.4,"y":-0.31},{"c":9,"i":81,"t":340.2,"y":-0.51},{"c":9,"i":82,"t":335.6,"y":-1.51},{"c":9,"i":83,"t":335.6,"y":-2.95},{"c":9,"i":84,"t":340.2,"y":-4.43},{"c":9,"i":85,"t":347.4,"y":-5.75},{"c":10,"i":86,"t":347.4,"y":-1.15},{"c":10,"i":87,"t":342.8,"y":-1.51},{"c":10,"i":88,"t":341.8,"y":-2.15},{"c":10,"i":89,"t":343.3,"y":-2.95},{"c":10,"i":90,"t":347.4,"y":-3.91}]},"encoding":{"x":{"field":"t","type":"quantitative"},"y":{"field":"y","type":"quantitative"},"detail":{"field":"c"},"order":{"field":"i","type":"quantitative"}}},{"mark":{"type":"text","color":"#8088a0","font":"Liberation Sans","fontWeight":"bold","fontSize":25,"angle":90},"data":{"values":[{"t":299,"y":-2.67,"s":"0.02"},{"t":340.5,"y":2.98,"s":"0.06"}]},"encoding":{"x":{"field":"t","type":"quantitative"},"y":{"field":"y","type":"quantitative"},"text":{"field":"s"}}},{"mark":{"type":"text","color":"#8088a0","font":"Liberation Sans","fontWeight":"bold","fontSize":26,"angle":270},"data":{"values":[{"t":20.7,"y":-3.4,"s":"0.02"}]},"encoding":{"x":{"field":"t","type":"quantitative"},"y":{"field":"y","type":"quantitative"},"text":{"field":"s"}}},{"mark":{"type":"text","color":"#708090","font":"Liberation Sans","fontSize":39,"angle":90,"align":"center","baseline":"top"},"data":{"values":[{"t":534.5,"y":7.85,"s":"−0.08"},{"t":534.5,"y":3.73,"s":"−0.04"},{"t":534.5,"y":-0.03,"s":"0.00"},{"t":534.5,"y":-4.11,"s":"0.04"},{"t":534.5,"y":-7.91,"s":"0.08"}]},"encoding":{"x":{"field":"t","type":"quantitative"},"y":{"field":"y","type":"quantitative"},"text":{"field":"s"}}},{"mark":{"type":"text","color":"#708090","font":"Liberation Sans","fontSize":37,"align":"right","baseline":"middle"},"data":{"values":[{"t":-5.2,"y":7.69,"s":"8.0"},{"t":-5.2,"y":3.85,"s":"4.0"},{"t":-5.2,"y":0,"s":"0.0"},{"t":-5.2,"y":-3.83,"s":"−4.0"},{"t":-5.2,"y":-7.67,"s":"−8.0"}]},"encoding":{"x":{"field":"t","type":"quantitative"},"y":{"field":"y","type":"quantitative"},"text":{"field":"s"}}},{"mark":{"type":"rect","fill":"transparent","stroke":"#7a8298","strokeWidth":3},"data":{"values":[{"a":1.5,"b":499,"p":-9.8,"q":9.8}]},"encoding":{"x":{"field":"a","type":"quantitative"},"x2":{"field":"b"},"y":{"field":"p","type":"quantitative"},"y2":{"field":"q"}}}]}
